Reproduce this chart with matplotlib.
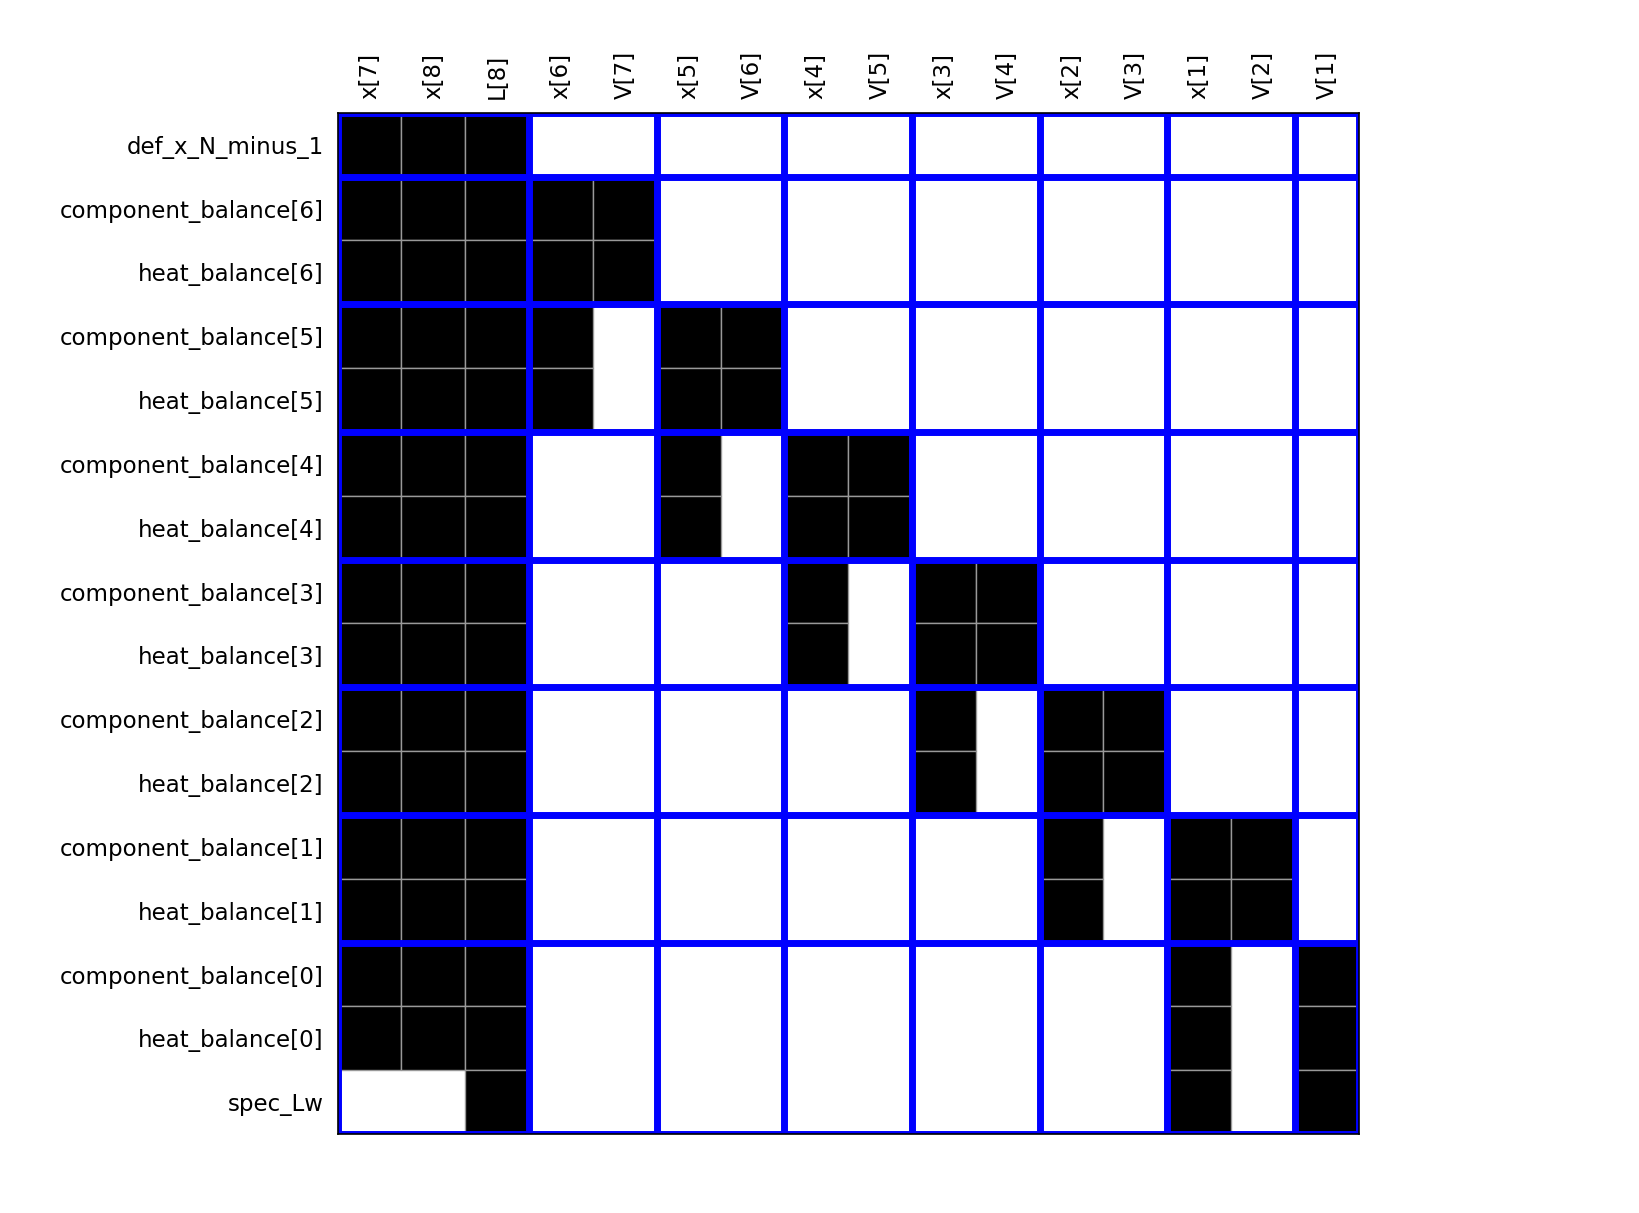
import numpy as np
import matplotlib
matplotlib.use("Agg")
import matplotlib.pyplot as plt

# variables (columns) and equations (rows), in block triangular order
col_labels = ["x[7]", "x[8]", "L[8]", "x[6]", "V[7]", "x[5]", "V[6]", "x[4]",
              "V[5]", "x[3]", "V[4]", "x[2]", "V[3]", "x[1]", "V[2]", "V[1]"]
row_labels = ["def_x_N_minus_1",
              "component_balance[6]", "heat_balance[6]",
              "component_balance[5]", "heat_balance[5]",
              "component_balance[4]", "heat_balance[4]",
              "component_balance[3]", "heat_balance[3]",
              "component_balance[2]", "heat_balance[2]",
              "component_balance[1]", "heat_balance[1]",
              "component_balance[0]", "heat_balance[0]",
              "spec_Lw"]

# nonzero columns for each row
nonzeros = [
    [0, 1, 2],
    [0, 1, 2, 3, 4],
    [0, 1, 2, 3, 4],
    [0, 1, 2, 3, 5, 6],
    [0, 1, 2, 3, 5, 6],
    [0, 1, 2, 5, 7, 8],
    [0, 1, 2, 5, 7, 8],
    [0, 1, 2, 7, 9, 10],
    [0, 1, 2, 7, 9, 10],
    [0, 1, 2, 9, 11, 12],
    [0, 1, 2, 9, 11, 12],
    [0, 1, 2, 11, 13, 14],
    [0, 1, 2, 11, 13, 14],
    [0, 1, 2, 13, 15],
    [0, 1, 2, 13, 15],
    [2, 13, 15],
]

# block boundaries (rows / columns)
row_blocks = [0, 1, 3, 5, 7, 9, 11, 13, 16]
col_blocks = [0, 3, 5, 7, 9, 11, 13, 15, 16]

n_rows, n_cols = len(row_labels), len(col_labels)

fig = plt.figure(figsize=(16.39, 12.13), dpi=100)
ax = fig.add_axes([0.206, 0.065, 0.623, 0.842])

# one black cell per nonzero entry
for i, cols in enumerate(nonzeros):
    ax.barh([i] * len(cols), 1, left=cols, height=1, align="edge",
            color="black", edgecolor="0.6", linewidth=1)

for b in row_blocks:
    ax.axhline(b, color="blue", lw=5)
for b in col_blocks:
    ax.axvline(b, color="blue", lw=5)

ax.set_xlim(0, n_cols)
ax.set_ylim(n_rows, 0)

ax.xaxis.tick_top()
ax.set_xticks(np.arange(n_cols) + 0.5)
ax.set_xticklabels(col_labels, rotation=90, fontsize=16.5)
ax.set_yticks(np.arange(n_rows) + 0.5)
ax.set_yticklabels(row_labels, fontsize=16.5)
ax.tick_params(length=0, pad=10)
for s in ax.spines.values():
    s.set_linewidth(1.2)

plt.savefig("out.png", dpi=100)
